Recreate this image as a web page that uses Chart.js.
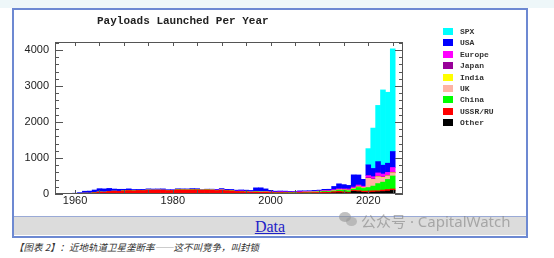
<!DOCTYPE html>
<html lang="zh">
<head>
    <meta charset="UTF-8">
    <title>Payloads Launched Per Year</title>
    <script src="https://cdn.jsdelivr.net/npm/chart.js"></script>
    <style>
        body {
            margin: 0;
            width: 554px;
            height: 258px;
            background: #ffffff;
            position: relative;
            overflow: hidden;
            font-family: "Liberation Sans", Arial, sans-serif;
        }
        .topstrip {
            position: absolute; left: 0; top: 0; width: 554px; height: 8px;
            background: #eef7f9;
        }
        .frame {
            position: absolute; left: 12px; top: 8px; width: 512px; height: 226px;
            border: 2px solid #6d89d2;
        }
        .band {
            position: absolute; left: 14px; top: 216px; width: 512px; height: 18px;
            background: #dcdcdc;
            border-top: 1px solid #9aaad6;
        }
        .band a {
            position: absolute; left: 0; width: 512px; top: 0; text-align: center;
            font-family: "Liberation Serif", "Times New Roman", serif;
            font-size: 16px; line-height: 19px; color: #1e22c8;
        }
        #chart { position: absolute; left: 0; top: 0; }
        .title {
            position: absolute; left: 97px; top: 15px;
            font-family: "Liberation Mono", "Courier New", monospace;
            font-weight: bold; font-size: 11px; color: #222;
            white-space: nowrap;
        }
        #legend { position: absolute; left: 443px; top: 28px; }
        .item { position: relative; height: 11.4px; }
        .item span.box {
            position: absolute; left: 0; top: 0; width: 10px; height: 7px;
        }
        .item span.txt {
            position: absolute; left: 17px; top: -2px;
            font-family: "Liberation Mono", "Courier New", monospace;
            font-weight: bold; font-size: 8px; line-height: 11px; color: #333;
            white-space: nowrap;
        }
        .caption {
            position: absolute; left: 14px; top: 240px;
            font-family: "Noto Sans CJK SC", sans-serif;
            font-style: italic; font-size: 9.5px; color: #333; white-space: nowrap;
        }
        .wm {
            position: absolute; left: 361px; top: 210px;
            font-family: "Noto Sans", "Noto Sans CJK SC", sans-serif;
            font-size: 15px; color: rgba(130,130,130,0.6); white-space: nowrap;
        }
        .wm-icon1, .wm-icon2 {
            position: absolute; border-radius: 50%; background: rgba(140,140,140,0.55);
        }
        .wm-icon1 { left: 339px; top: 212px; width: 12px; height: 10px; }
        .wm-icon2 { left: 346px; top: 217px; width: 11px; height: 9px; background: rgba(150,150,150,0.5); }
    </style>
</head>
<body>
    <div class="topstrip"></div>
    <div class="frame"></div>
    <div class="band"><a href="#"><u>Data</u></a></div>
    <canvas id="chart" width="554" height="216"></canvas>
    <div class="title">Payloads Launched Per Year</div>
    <div id="legend"></div>
    <div class="wm-icon1"></div><div class="wm-icon2"></div>
    <div class="wm">公众号 · CapitalWatch</div>
    <div class="caption">【图表 2】：近地轨道卫星垄断率——这不叫竞争，叫封锁</div>

    <script>
        // Years 1957 - 2025
        const firstYear = 1957;

        // Payloads per year by owner
        const other = [
            0, 0, 0,
            0, 0, 1, 1, 1, 2, 2, 2, 2, 2,
            3, 3, 3, 3, 4, 4, 4, 4, 4, 4,
            4, 5, 5, 5, 6, 6, 6, 6, 6, 6,
            8, 8, 8, 8, 8, 10, 10, 12, 12, 12,
            10, 10, 12, 12, 12, 12, 14, 15, 15, 16,
            18, 20, 22, 30, 35, 30, 30, 75, 65, 45,
            40, 50, 60, 70, 80, 100
        ];
        const ussr = [
            2, 1, 3,
            5, 8, 20, 20, 35, 50, 48, 70, 75, 72,
            85, 92, 85, 95, 92, 100, 100, 102, 100, 92,
            95, 110, 108, 105, 108, 110, 100, 108, 100, 90,
            95, 85, 78, 62, 58, 50, 38, 42, 35, 40,
            32, 25, 25, 22, 20, 18, 25, 22, 20, 25,
            25, 30, 25, 35, 40, 30, 20, 25, 30, 35,
            40, 40, 30, 40, 45, 40
        ];
        const china = [
            0, 0, 0,
            0, 0, 0, 0, 0, 0, 0, 0, 0, 0,
            1, 1, 0, 0, 0, 3, 2, 0, 1, 0,
            0, 3, 2, 1, 3, 2, 2, 2, 2, 1,
            3, 1, 2, 1, 4, 1, 2, 6, 6, 2,
            4, 3, 4, 6, 8, 8, 6, 10, 12, 10,
            16, 22, 22, 18, 28, 42, 40, 32, 85, 75,
            100, 130, 200, 220, 280, 360
        ];
        const uk = [
            0, 0, 0,
            0, 0, 1, 0, 0, 0, 0, 1, 0, 1,
            0, 1, 0, 0, 1, 0, 0, 0, 0, 1,
            0, 0, 0, 0, 0, 0, 0, 0, 1, 1,
            1, 0, 1, 1, 1, 1, 0, 1, 1, 1,
            2, 1, 2, 3, 3, 2, 2, 2, 3, 3,
            3, 2, 4, 6, 8, 5, 6, 8, 10, 12,
            250, 180, 180, 120, 90, 80
        ];
        const india = [
            0, 0, 0,
            0, 0, 0, 0, 0, 0, 0, 0, 0, 0,
            0, 0, 0, 0, 0, 1, 0, 0, 0, 1,
            1, 2, 1, 1, 0, 0, 0, 1, 2, 0,
            1, 1, 2, 1, 1, 1, 1, 1, 0, 2,
            1, 2, 2, 2, 1, 2, 0, 3, 3, 3,
            4, 4, 3, 3, 4, 6, 12, 12, 10, 10,
            5, 5, 10, 10, 10, 10
        ];
        const japan = [
            0, 0, 0,
            0, 0, 0, 0, 0, 0, 0, 0, 0, 0,
            1, 2, 1, 0, 0, 2, 2, 3, 2, 2,
            2, 3, 3, 3, 3, 3, 2, 3, 3, 3,
            5, 2, 2, 1, 3, 2, 3, 2, 1, 1,
            3, 3, 4, 3, 1, 2, 6, 4, 5, 5,
            4, 4, 8, 6, 10, 8, 6, 10, 14, 10,
            15, 15, 15, 15, 15, 15
        ];
        const europe = [
            0, 0, 0,
            0, 0, 0, 0, 0, 1, 2, 2, 1, 1,
            1, 2, 1, 0, 2, 3, 2, 3, 3, 2,
            3, 4, 5, 4, 5, 6, 5, 6, 8, 8,
            10, 8, 8, 8, 10, 12, 10, 12, 12, 14,
            12, 10, 12, 10, 10, 12, 12, 12, 15, 14,
            16, 18, 20, 22, 18, 20, 25, 30, 35, 30,
            60, 60, 90, 80, 80, 130
        ];
        const usa = [
            0, 5, 10,
            17, 30, 55, 60, 75, 95, 90, 80, 60, 55,
            40, 42, 35, 28, 28, 30, 28, 28, 32, 18,
            15, 18, 18, 22, 25, 20, 8, 8, 12, 18,
            28, 25, 25, 25, 28, 30, 35, 95, 105, 70,
            38, 25, 22, 22, 18, 15, 22, 20, 18, 25,
            22, 30, 28, 90, 140, 120, 100, 340, 280, 190,
            300, 230, 315, 245, 255, 445
        ];
        const spxYears = [2020, 2021, 2022, 2023, 2024, 2025];
        const spx = [450, 1120, 1560, 2090, 1970, 2850];

        const yTicks = [0, 1000, 2000, 3000, 4000];
        const xTicks = [1960, 1980, 2000, 2020];

        // bottom of stack first
        const series = [
            { label: "Other",   color: "#000000", values: other },
            { label: "USSR/RU", color: "#ff0000", values: ussr },
            { label: "China",   color: "#00ff00", values: china },
            { label: "UK",      color: "#ffb4a4", values: uk },
            { label: "India",   color: "#ffff00", values: india },
            { label: "Japan",   color: "#990099", values: japan },
            { label: "Europe",  color: "#ff00ff", values: europe },
            { label: "USA",     color: "#0000ff", values: usa }
        ];

        function toPoints(values, start) {
            return values.map((v, i) => ({ x: start + i, y: v }));
        }

        const datasets = series.map(s => ({
            label: s.label,
            data: toPoints(s.values, firstYear),
            backgroundColor: s.color,
            borderWidth: 0,
            barPercentage: 1.0,
            categoryPercentage: 1.0
        }));
        datasets.push({
            label: "SPX",
            data: spx.map((v, i) => ({ x: spxYears[i], y: v })),
            backgroundColor: "#00ffff",
            borderWidth: 0,
            barPercentage: 1.0,
            categoryPercentage: 1.0
        });

        // Legend, top of stack first
        const legend = document.getElementById("legend");
        datasets.slice().reverse().forEach(d => {
            const row = document.createElement("div");
            row.className = "item";
            row.innerHTML = '<span class="box" style="background:' + d.backgroundColor + '"></span>' +
                '<span class="txt">' + d.label + '</span>';
            legend.appendChild(row);
        });

        // Frame with inward tick marks
        const frameTicks = {
            id: "frameTicks",
            afterDatasetsDraw(chart) {
                const { ctx, chartArea: a, scales: { x, y } } = chart;
                ctx.save();
                ctx.strokeStyle = "#555";
                ctx.lineWidth = 1;
                ctx.strokeRect(a.left + 0.5, a.top + 0.5, a.right - a.left - 1, a.bottom - a.top - 1);
                ctx.beginPath();
                for (let v = 0; v <= y.max; v += 200) {
                    const py = Math.round(y.getPixelForValue(v)) + 0.5;
                    const len = v % 1000 === 0 ? 8 : 4;
                    ctx.moveTo(a.left, py); ctx.lineTo(a.left + len, py);
                    ctx.moveTo(a.right, py); ctx.lineTo(a.right - len, py);
                }
                for (let yr = 1960; yr <= x.max; yr += 5) {
                    const px = Math.round(x.getPixelForValue(yr)) + 0.5;
                    ctx.moveTo(px, a.bottom); ctx.lineTo(px, a.bottom - 4);
                    ctx.moveTo(px, a.top); ctx.lineTo(px, a.top + 4);
                }
                ctx.stroke();
                ctx.restore();
            }
        };

        new Chart(document.getElementById("chart"), {
            type: "bar",
            data: { datasets: datasets },
            options: {
                responsive: false,
                animation: false,
                devicePixelRatio: 1,
                layout: { padding: { left: 0, top: 42, right: 151, bottom: 0 } },
                plugins: {
                    legend: { display: false },
                    tooltip: { enabled: false }
                },
                scales: {
                    x: {
                        type: "linear",
                        stacked: true,
                        offset: false,
                        min: 1955.9,
                        max: 2027.1,
                        grid: { display: false, drawTicks: false },
                        border: { display: false },
                        afterBuildTicks: s => { s.ticks = xTicks.map(v => ({ value: v })); },
                        afterFit: s => { s.height = 22; },
                        ticks: {
                            padding: 0,
                            maxRotation: 0,
                            autoSkip: false,
                            color: "#222",
                            font: { family: "Liberation Sans", size: 11 },
                            callback: v => String(v)
                        }
                    },
                    y: {
                        stacked: true,
                        min: 0,
                        max: 4220,
                        grid: { display: false, drawTicks: false },
                        border: { display: false },
                        afterBuildTicks: s => { s.ticks = yTicks.map(v => ({ value: v })); },
                        afterFit: s => { s.width = 55; },
                        ticks: {
                            padding: 6,
                            color: "#222",
                            font: { family: "Liberation Sans", size: 11 },
                            callback: v => String(v)
                        }
                    }
                }
            },
            plugins: [frameTicks]
        });
    </script>
</body>
</html>
